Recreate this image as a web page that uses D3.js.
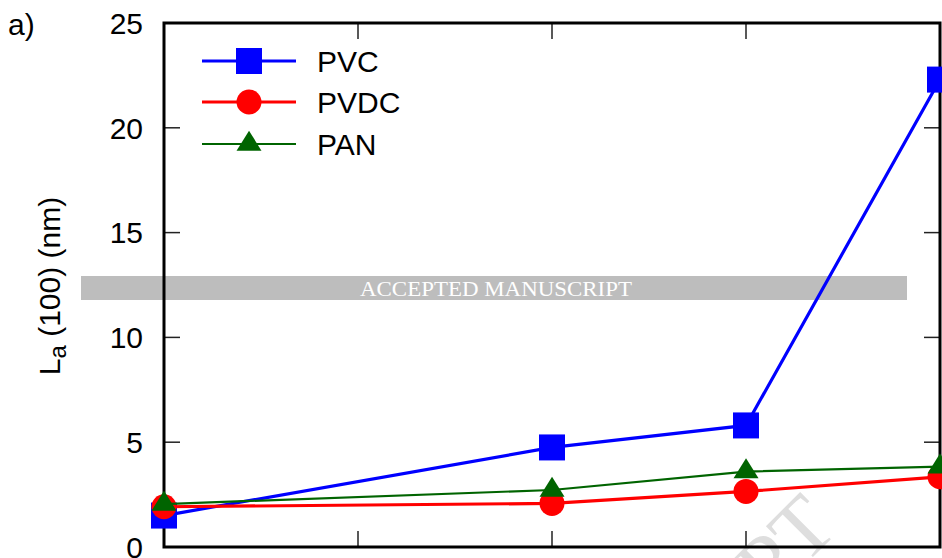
<!DOCTYPE html>
<html>
<head>
<meta charset="utf-8">
<script src="https://cdn.jsdelivr.net/npm/d3@7"></script>
<style>
  html, body { margin: 0; padding: 0; background: #fff; }
  svg { display: block; }
  text { font-family: "Liberation Sans", Arial, Helvetica, sans-serif; }
</style>
</head>
<body>
<svg id="chart" width="942" height="558"></svg>
<script>
// ---- data ----
const temps = [1000, 2000, 2500, 3000];
const pvc  = [1.5, 4.75, 5.8, 22.3];
const pvdc = [1.92, 2.08, 2.65, 3.35];
const pan  = [2.05, 2.72, 3.6, 3.83];
const seriesNames = ["PVC", "PVDC", "PAN"];
const yTicks = [0, 5, 10, 15, 20, 25];
const xTicks = [1000, 1500, 2000, 2500, 3000];

const svg = d3.select("#chart");
const pLeft = 164, pRight = 940, pTop = 23, pBottom = 547;

const x = d3.scaleLinear().domain([1000, 3000]).range([pLeft, pRight]);
const y = d3.scaleLinear().domain([0, 25]).range([pBottom, pTop]);

// watermark band (behind)
svg.append("rect").attr("x", 81).attr("y", 276).attr("width", 826).attr("height", 24)
  .attr("fill", "#bdbdbd");
svg.append("text").attr("x", 496).attr("y", 296)
  .attr("text-anchor", "middle")
  .style("font-family", "'Liberation Serif', 'Times New Roman', serif")
  .attr("font-size", 22).attr("fill", "#ffffff")
  .attr("textLength", 272).attr("lengthAdjust", "spacingAndGlyphs")
  .text("ACCEPTED MANUSCRIPT");

// faint diagonal watermark
svg.append("text")
  .attr("transform", "translate(840,530) rotate(-45)")
  .attr("text-anchor", "end")
  .style("font-family", "'Liberation Serif', 'Times New Roman', serif")
  .attr("font-size", 84).attr("fill", "#dedede")
  .text("ACCEPTED MANUSCRIPT");

// ticks (inward)
const tickLen = 16;
const tickG = svg.append("g").attr("stroke", "#222").attr("stroke-width", 1.5);
yTicks.forEach(v => {
  if (v === 0 || v === 25) return;
  tickG.append("line").attr("x1", pLeft).attr("x2", pLeft + tickLen).attr("y1", y(v)).attr("y2", y(v));
  tickG.append("line").attr("x1", pRight).attr("x2", pRight - tickLen).attr("y1", y(v)).attr("y2", y(v));
});
xTicks.forEach(v => {
  if (v === 1000 || v === 3000) return;
  tickG.append("line").attr("x1", x(v)).attr("x2", x(v)).attr("y1", pBottom).attr("y2", pBottom - tickLen);
  tickG.append("line").attr("x1", x(v)).attr("x2", x(v)).attr("y1", pTop).attr("y2", pTop + tickLen);
});

// y tick labels
svg.append("g").selectAll("text").data(yTicks).join("text")
  .attr("x", 143).attr("y", d => y(d)).attr("dy", "0.36em")
  .attr("text-anchor", "end").attr("font-size", 30).attr("fill", "#000")
  .text(d => d);

// frame
svg.append("rect").attr("x", pLeft).attr("y", pTop)
  .attr("width", pRight - pLeft).attr("height", pBottom - pTop)
  .attr("fill", "none").attr("stroke", "#000").attr("stroke-width", 3);

// y label
const yl = svg.append("text").attr("transform", "translate(60,286) rotate(-90)")
  .attr("text-anchor", "middle").attr("font-size", 30).attr("fill", "#000");
yl.append("tspan").text("L");
yl.append("tspan").attr("font-size", 24).attr("dy", 6).text("a");
yl.append("tspan").attr("dy", -6).text(" (100) (nm)");

// panel label
svg.append("text").attr("x", 8).attr("y", 35).attr("font-size", 30).attr("fill", "#000").text("a)");

// series
const tri = (w, h) => `M0,${-2*h/3}L${w/2},${h/3}L${-w/2},${h/3}Z`;
const series = [
  {name: seriesNames[0], vals: pvc,  color: "#0000ff", lw: 3.2, marker: "square"},
  {name: seriesNames[1], vals: pvdc, color: "#ff0000", lw: 3.2, marker: "circle"},
  {name: seriesNames[2], vals: pan,  color: "#006400", lw: 2.2, marker: "triangle"}
];
function drawMarker(g, type, cx, cy, color) {
  if (type === "square") {
    g.append("rect").attr("x", cx - 13).attr("y", cy - 13).attr("width", 26).attr("height", 26).attr("fill", color);
  } else if (type === "circle") {
    g.append("circle").attr("cx", cx).attr("cy", cy).attr("r", 12.5).attr("fill", color);
  } else {
    g.append("path").attr("d", tri(25, 20)).attr("transform", `translate(${cx},${cy})`).attr("fill", color);
  }
}
const line = d3.line().x(d => x(d[0])).y(d => y(d[1]));
series.forEach(s => {
  const pts = temps.map((t, i) => [t, s.vals[i]]);
  const g = svg.append("g");
  g.append("path").attr("d", line(pts)).attr("fill", "none")
    .attr("stroke", s.color).attr("stroke-width", s.lw);
  pts.forEach(p => drawMarker(g, s.marker, x(p[0]), y(p[1]), s.color));
});

// legend
const legY = [61, 102, 144];
series.forEach((s, i) => {
  const g = svg.append("g");
  g.append("line").attr("x1", 202).attr("x2", 296).attr("y1", legY[i]).attr("y2", legY[i])
    .attr("stroke", s.color).attr("stroke-width", s.lw);
  drawMarker(g, s.marker, 249, legY[i], s.color);
  g.append("text").attr("x", 317).attr("y", legY[i]).attr("dy", "0.36em")
    .attr("font-size", 30).attr("fill", "#000").text(s.name);
});
</script>
</body>
</html>
